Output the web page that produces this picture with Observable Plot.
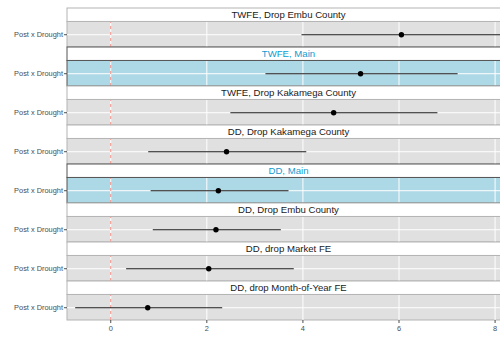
<!DOCTYPE html>
<html>
<head>
<meta charset="utf-8">
<script src="https://cdn.jsdelivr.net/npm/d3@7"></script>
<script src="https://cdn.jsdelivr.net/npm/@observablehq/plot@0.6"></script>
<style>
  html, body { margin: 0; padding: 0; background: #ffffff; overflow: hidden; width: 500px; height: 339px; }
  #chart { width: 509px; }
  #chart svg { display: block; max-width: none !important; width: 509px !important; }
</style>
</head>
<body>
<div id="chart"></div>
<script>
// ---- data ----
const labels = [
  "TWFE, Drop Embu County",
  "TWFE, Main",
  "TWFE, Drop Kakamega County",
  "DD, Drop Kakamega County",
  "DD, Main",
  "DD, Drop Embu County",
  "DD, drop Market FE",
  "DD, drop Month-of-Year FE"
];
const estimates = [6.05, 5.20, 4.64, 2.41, 2.24, 2.19, 2.04, 0.77];
const lowers    = [3.97, 3.22, 2.49, 0.78, 0.83, 0.875, 0.32, -0.74];
const uppers    = [8.13, 7.22, 6.80, 4.07, 3.70, 3.54, 3.81, 2.32];
const mainFlags = [false, true, false, false, true, false, false, false];
const termLabel = "Post x Drought";
const xTicks = [0, 2, 4, 6, 8];
const xDomain = [-0.9, 8.3];

const rows = labels.map((label, i) => ({
  label, est: estimates[i], lo: lowers[i], hi: uppers[i], main: mainFlags[i]
}));

// layout within each facet (y in [0,1], strip on top)
const panelTop = 0.655;
const yCenter = panelTop / 2;
const stripCenter = (panelTop + 1) / 2;
const xMid = (xDomain[0] + xDomain[1]) / 2;

const font = "'Liberation Sans', Arial, Helvetica, sans-serif";
const blue = "#0f9bd0";

const chart = Plot.plot({
  width: 509,
  height: 339,
  marginLeft: 67,
  marginRight: 0,
  marginTop: 8,
  marginBottom: 19,
  style: { fontFamily: font, background: "#ffffff", overflow: "visible" },
  x: { domain: xDomain },
  y: { domain: [0, 1] },
  fy: { domain: labels, padding: 0, axis: null },
  marks: [
    // panel backgrounds
    Plot.rect(rows.filter(d => !d.main), {
      x1: xDomain[0], x2: xDomain[1], y1: 0, y2: panelTop, fy: "label",
      fill: "#e0e0e0", stroke: "#b3b3b3", strokeWidth: 1
    }),
    Plot.rect(rows.filter(d => d.main), {
      x1: xDomain[0], x2: xDomain[1], y1: 0, y2: panelTop, fy: "label",
      fill: "#add8e6"
    }),
    // grid lines
    Plot.ruleX(xTicks, { y1: 0, y2: panelTop, stroke: "#ffffff", strokeWidth: 1 }),
    Plot.ruleY([yCenter], { x1: xDomain[0], x2: xDomain[1], stroke: "#ffffff", strokeWidth: 1 }),
    // zero reference line
    Plot.ruleX([0], { y1: 0, y2: panelTop, stroke: "#f28b82", strokeWidth: 1, strokeDasharray: "3,3" }),
    // confidence intervals
    Plot.link(rows, {
      x1: "lo", x2: "hi", y1: yCenter, y2: yCenter, fy: "label",
      stroke: "#1a1a1a", strokeWidth: 1.1
    }),
    Plot.dot(rows, { x: "est", y: yCenter, fy: "label", r: 2.7, fill: "#000000", stroke: null }),
    // main panel dark border
    Plot.rect(rows.filter(d => d.main), {
      x1: xDomain[0], x2: xDomain[1], y1: 0, y2: panelTop, fy: "label",
      fill: "none", stroke: "#555555", strokeWidth: 1
    }),
    // strips
    Plot.rect(rows.filter(d => !d.main), {
      x1: xDomain[0], x2: xDomain[1], y1: panelTop, y2: 1, fy: "label",
      fill: "#ffffff", stroke: "#b3b3b3", strokeWidth: 1
    }),
    Plot.rect(rows.filter(d => d.main), {
      x1: xDomain[0], x2: xDomain[1], y1: panelTop, y2: 1, fy: "label",
      fill: "#ffffff", stroke: "#555555", strokeWidth: 1
    }),
    Plot.text(rows.filter(d => !d.main), {
      x: xMid, y: stripCenter, text: "label", fy: "label",
      fill: "#1a1a1a", fontSize: 9.6
    }),
    Plot.text(rows.filter(d => d.main), {
      x: xMid, y: stripCenter, text: "label", fy: "label",
      fill: blue, fontSize: 9.6
    }),
    // axes
    Plot.axisY({
      ticks: [yCenter], tickFormat: () => termLabel, tickSize: 3, tickPadding: 1.5,
      fontSize: 7.4, color: "#4d4d4d", label: null
    }),
    Plot.axisX({
      ticks: xTicks, tickSize: 3, tickPadding: 2, fontSize: 7.4, color: "#4d4d4d", label: null
    })
  ]
});

document.getElementById("chart").appendChild(chart);
</script>
</body>
</html>
